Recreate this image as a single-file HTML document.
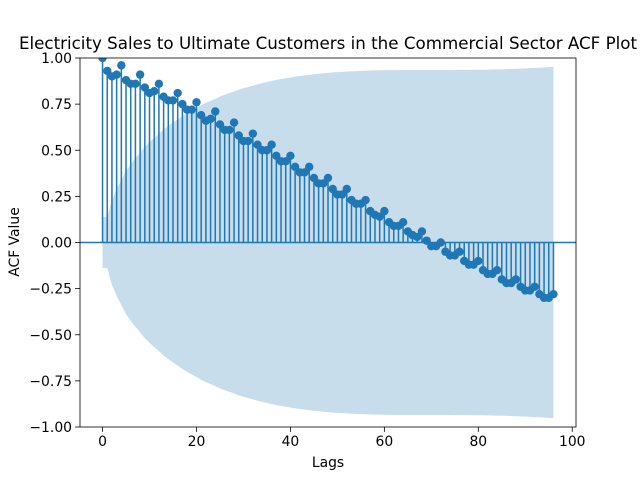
<!DOCTYPE html>
<html><head><meta charset="utf-8"><style>body{margin:0;background:#fff}svg{display:block;font-family:"DejaVu Sans","Liberation Sans",sans-serif}</style></head>
<body>
<svg id="chart" width="640" height="480" xmlns="http://www.w3.org/2000/svg"></svg>
<script>
const lags=[];for(let i=0;i<=96;i++)lags.push(i);
const acfValues=[1.0,0.93,0.90,0.91,0.96,0.88,0.86,0.86,0.91,0.84,0.81,0.82,0.86,0.79,0.77,0.77,0.81,0.75,0.72,0.72,0.76,0.69,0.66,0.67,0.71,0.64,0.61,0.61,0.65,0.58,0.55,0.55,0.59,0.53,0.50,0.50,0.53,0.47,0.44,0.44,0.47,0.41,0.38,0.38,0.41,0.35,0.32,0.32,0.35,0.29,0.26,0.26,0.29,0.23,0.21,0.21,0.23,0.17,0.15,0.14,0.17,0.11,0.09,0.09,0.11,0.06,0.04,0.03,0.06,0.01,-0.02,-0.02,0.00,-0.05,-0.07,-0.07,-0.05,-0.10,-0.12,-0.12,-0.10,-0.15,-0.17,-0.17,-0.15,-0.20,-0.22,-0.22,-0.20,-0.24,-0.26,-0.26,-0.24,-0.28,-0.30,-0.30,-0.28];
const xTicks=[0,20,40,60,80,100];
const yTicks=[-1.00,-0.75,-0.50,-0.25,0.00,0.25,0.50,0.75,1.00];
const nObs=200;
const L=80,R=576,T=58,B=427,xmin=-4.8,xmax=100.8,ymin=-1,ymax=1;
const X=v=>L+(v-xmin)/(xmax-xmin)*(R-L);
const Y=v=>B-(v-ymin)/(ymax-ymin)*(B-T);
const svg=document.getElementById('chart');const NS='http://www.w3.org/2000/svg';
function mk(t,a,p){const e=document.createElementNS(NS,t);for(const k in a)e.setAttribute(k,a[k]);(p||svg).appendChild(e);return e;}
let s=0;const band=[];
for(let k=0;k<lags.length;k++){band.push(1.96*Math.sqrt((1+2*s)/nObs));if(k>0)s+=acfValues[k]*acfValues[k];}
let d='';lags.forEach((l,i)=>{d+=(i?'L':'M')+X(l)+','+Y(band[i]);});
for(let i=lags.length-1;i>=0;i--)d+='L'+X(lags[i])+','+Y(-band[i]);
const bp=mk('path',{d:d+'Z',fill:'#1f77b4','fill-opacity':'0.25'});


const zl=mk('line',{x1:L,x2:R,y1:Y(0),y2:Y(0),stroke:'#1f77b4','stroke-width':1.5});


lags.forEach((l,i)=>{
 const st=mk('line',{x1:X(l),x2:X(l),y1:Y(0),y2:Y(acfValues[i]),stroke:'#1f77b4','stroke-width':1.5});
 
 
});
lags.forEach((l,i)=>{
 const c=mk('circle',{cx:X(l),cy:Y(acfValues[i]),r:4.2,fill:'#1f77b4'});
 
 
});
mk('rect',{x:0,y:0,width:640,height:T,fill:'#fff'});
mk('rect',{x:0,y:B,width:640,height:480-B,fill:'#fff'});
mk('rect',{x:0,y:0,width:L,height:480,fill:'#fff'});
mk('rect',{x:R,y:0,width:640-R,height:480,fill:'#fff'});
const fr=mk('rect',{x:L,y:T,width:R-L,height:B-T,fill:'none',stroke:'#000','stroke-width':0.8});


xTicks.forEach(t=>{
 mk('line',{x1:X(t),x2:X(t),y1:B,y2:B+4.9,stroke:'#000','stroke-width':0.8});
 const tx=mk('text',{x:X(t),y:B+19,'text-anchor':'middle','font-size':13.9});tx.textContent=t;
 
 
});
yTicks.forEach(t=>{
 mk('line',{x1:L-4.9,x2:L,y1:Y(t),y2:Y(t),stroke:'#000','stroke-width':0.8});
 const tx=mk('text',{x:L-8,y:Y(t)+5,'text-anchor':'end','font-size':13.9});tx.textContent=t.toFixed(2).replace('-','\u2212');
 
 
});
const ti=mk('text',{x:328,y:49,'text-anchor':'middle','font-size':16.7});ti.textContent='Electricity Sales to Ultimate Customers in the Commercial Sector ACF Plot';


const xl=mk('text',{x:328,y:467,'text-anchor':'middle','font-size':13.9});xl.textContent='Lags';


const yl=mk('text',{x:19,y:242,'text-anchor':'middle','font-size':13.9,transform:'rotate(-90 19 242)'});yl.textContent='ACF Value';


</script>
</body></html>
